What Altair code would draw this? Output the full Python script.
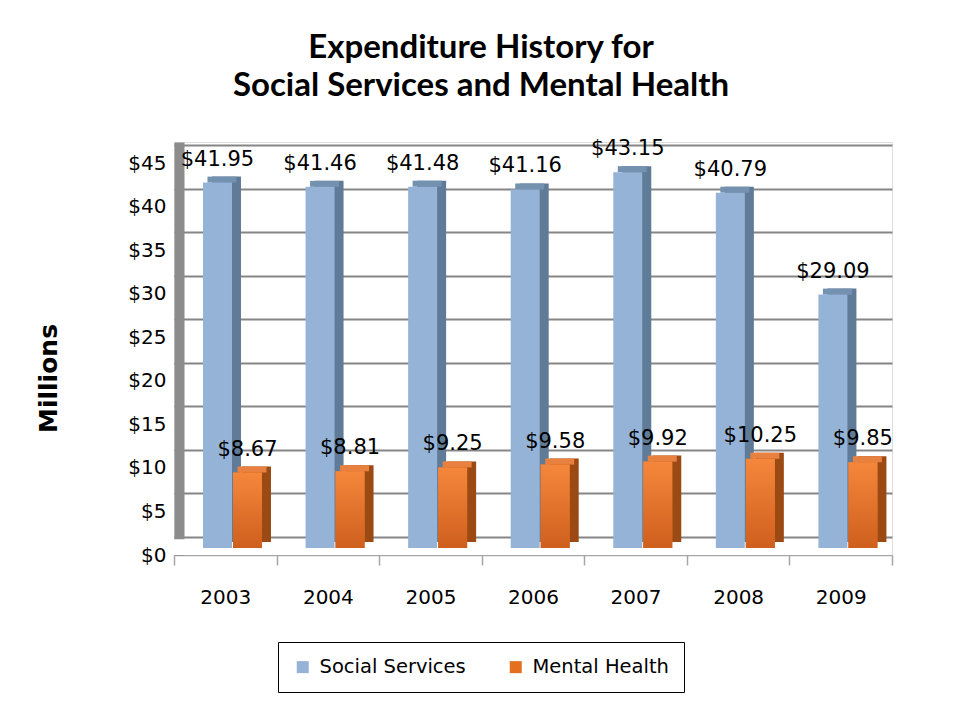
import altair as alt
import pandas as pd

years = ["2003", "2004", "2005", "2006", "2007", "2008", "2009"]
social = [41.95, 41.46, 41.48, 41.16, 43.15, 40.79, 29.09]
mental = [8.67, 8.81, 9.25, 9.58, 9.92, 10.25, 9.85]
series = ["Social Services", "Mental Health"]
y_ticks = [0, 5, 10, 15, 20, 25, 30, 35, 40, 45]
title_lines = ["Expenditure History for", "Social Services and Mental Health"]
y_title = "Millions"

rows = []
for i, yr in enumerate(years):
    rows.append({"year": yr, "series": series[0], "value": social[i], "label": f"${social[i]:.2f}"})
    rows.append({"year": yr, "series": series[1], "value": mental[i], "label": f"${mental[i]:.2f}"})
df = pd.DataFrame(rows)

FONT = "DejaVu Sans"

x_enc = alt.X(
    "year:N",
    sort=years,
    scale=alt.Scale(paddingInner=0, paddingOuter=0),
    axis=alt.Axis(
        title=None, labelAngle=0, labelFont=FONT, labelFontSize=20, labelColor="black",
        labelPadding=22, tickBand="extent", tickSize=10, tickColor="#a6a6a6", tickWidth=1.5,
        domainColor="#a6a6a6", domainWidth=1.5,
    ),
)
y_scale = alt.Scale(domain=[-0.8, 46.61], nice=False, zero=False)
y_enc = alt.Y(
    "value:Q",
    scale=y_scale,
    axis=alt.Axis(
        values=y_ticks, format="$,.0f", title=y_title, titleFont=FONT, titleFontSize=25,
        titleFontWeight="bold", titleColor="black", titleAngle=270, titleX=-131, titleY=236,
        titleAlign="center", titleBaseline="middle",
        labelFont=FONT, labelFontSize=20, labelColor="black", labelPadding=13,
        ticks=False, tickOffset=-11, labelOffset=18,
        grid=True, gridColor="#858585", gridWidth=2,
        domainColor="#8c8c8c", domainWidth=10, offset=-5,
    ),
)

color_enc = alt.Color(
    "series:N",
    scale=alt.Scale(domain=series, range=["#95b3d7", "#e46f1f"]),
    legend=alt.Legend(
        title=None, orient="none", direction="horizontal", legendX=104, legendY=500,
        labelFont=FONT, labelFontSize=19.5, labelColor="black", labelOffset=7,
        symbolType="square", symbolSize=144, symbolStrokeWidth=0, columnPadding=40,
        strokeColor="black", padding=15, fillColor="white",
    ),
)

orange_grad = alt.Gradient(
    gradient="linear",
    stops=[alt.GradientStop(color="#f5873c", offset=0), alt.GradientStop(color="#cf5f1d", offset=1)],
    x1=0, x2=0, y1=0, y2=1,
)

base = alt.Chart(df)
blue = base.transform_filter(alt.datum.series == series[0])
orange = base.transform_filter(alt.datum.series == series[1])

floor = alt.Chart(pd.DataFrame({"a": [0]})).mark_rect(color="white").encode(
    y=alt.datum(-0.8), y2=alt.datum(1.0)
)

blue_side = blue.mark_bar(width=29, xOffset=1.2, yOffset=-6, y2Offset=-6, color="#5f7b97").encode(
    x=x_enc, y=y_enc, y2=alt.datum(0)
)
blue_top = blue.mark_bar(width=29, xOffset=-3.3, yOffset=-6, y2Offset=0, color="#7491b0").encode(
    x=x_enc, y=y_enc, y2=alt.Y2("value:Q")
)
blue_front = blue.mark_bar(width=29, xOffset=-7.8).encode(
    x=x_enc, y=y_enc, y2=alt.datum(0), color=color_enc
)
orange_side = orange.mark_bar(width=29, xOffset=31.2, yOffset=-6, y2Offset=-6, color="#9c4a14").encode(
    x=x_enc, y=y_enc, y2=alt.datum(0)
)
orange_top = orange.mark_bar(width=29, xOffset=26.7, yOffset=-6, y2Offset=0, color="#e8803f").encode(
    x=x_enc, y=y_enc, y2=alt.Y2("value:Q")
)
orange_front = orange.mark_bar(width=29, xOffset=22.2).encode(
    x=x_enc, y=y_enc, y2=alt.datum(0), color=color_enc
)
orange_shade = orange.mark_bar(width=29, xOffset=22.2, fill=orange_grad).encode(
    x=x_enc, y=y_enc, y2=alt.datum(0)
)
blue_text = blue.mark_text(dx=-7.8, dy=-17, baseline="alphabetic", font=FONT, fontSize=21, color="black").encode(
    x=x_enc, y=y_enc, text="label:N"
)
orange_text = orange.mark_text(dx=22.2, dy=-17, baseline="alphabetic", font=FONT, fontSize=21, color="black").encode(
    x=x_enc, y=y_enc, text="label:N"
)

chart = alt.layer(
    floor, blue_side, blue_top, blue_front, orange_side, orange_top, orange_front, orange_shade,
    blue_text, orange_text
).properties(
    width=718,
    height=413,
    autosize=alt.AutoSizeParams(type="none"),
    padding={"left": 166, "top": 134, "right": 60, "bottom": 139},
    title=alt.TitleParams(
        text=title_lines, font="Lato", fontSize=33, fontWeight="bold", color="black",
        anchor="middle", frame="group", dx=-52, offset=35, lineHeight=38,
    ),
).configure_view(
    fill="#c0c0c0", stroke="transparent"
).configure(background="white")

chart.save("out.html", embed_options={"renderer": "svg", "actions": False})
